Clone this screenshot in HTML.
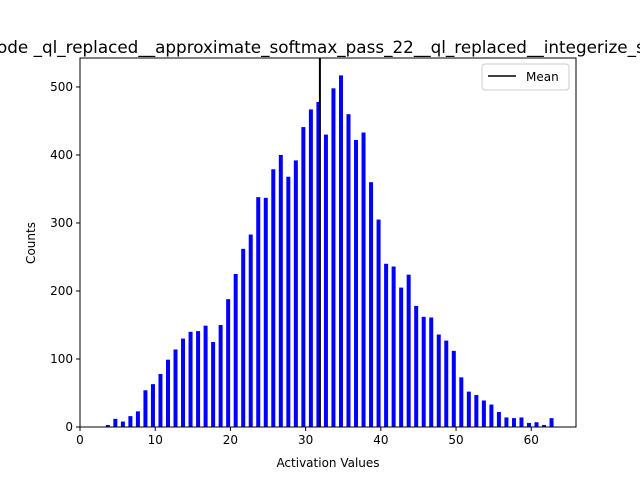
<!DOCTYPE html>
<html><head><meta charset="utf-8"><style>
body{margin:0;background:#fff}
svg{display:block;font-family:"DejaVu Sans","Liberation Sans",sans-serif}
</style></head><body>
<svg id="chart" width="640" height="480">
<rect width="640" height="480" fill="#fff"/>
<text x="-3" y="53" font-size="16.8">ode _ql_replaced__approximate_softmax_pass_22__ql_replaced__integerize_softmax</text>
<g id="bars"></g>
<g id="axes"></g>
<text x="328" y="467" font-size="12" text-anchor="middle">Activation Values</text>
<text transform="translate(35,243) rotate(-90)" font-size="12" text-anchor="middle">Counts</text>
<g>
<rect x="482" y="64" width="87" height="26" rx="3" fill="#fff" stroke="#ccc"/>
<line x1="488" y1="76" x2="516" y2="76" stroke="#000" stroke-width="1.5"/>
<text x="526" y="81" font-size="12">Mean</text>
</g>
</svg>
<script>
const categories=[4,5,6,7,8,9,10,11,12,13,14,15,16,17,18,19,20,21,22,23,24,25,26,27,28,29,30,31,32,33,34,35,36,37,38,39,40,41,42,43,44,45,46,47,48,49,50,51,52,53,54,55,56,57,58,59,60,61,62,63];
const counts=[3,12,8,16,23,54,63,78,99,114,130,140,141,149,125,150,188,225,262,283,338,337,379,400,368,392,441,467,478,430,498,517,460,422,433,360,305,240,236,205,224,178,162,161,136,127,112,73,52,47,39,33,22,14,13,14,6,7,3,13];
const meanValue=[31.9];
const xTicks=[0,10,20,30,40,50,60];
const yTicks=[0,100,200,300,400,500];
const NS="http://www.w3.org/2000/svg";
const L=80,R=576,T=58,B=427,xMax=65.95,yMax=542.6;
const xs=v=>L+v/xMax*(R-L), ys=v=>B-v/yMax*(B-T);
const bars=document.getElementById('bars'),axes=document.getElementById('axes');
function mk(t,a,p){const e=document.createElementNS(NS,t);for(const k in a)e.setAttribute(k,a[k]);p.appendChild(e);return e;}
categories.forEach((c,i)=>{
 const x=xs(c-0.3);
 const r=mk('rect',{x:x-2,y:ys(counts[i]),width:4,height:B-ys(counts[i]),fill:'#0000ff'},bars);
 
 
});
const ml=mk('line',{x1:xs(meanValue[0]),x2:xs(meanValue[0]),y1:T,y2:B,stroke:'#000','stroke-width':2},axes);


const fr=mk('rect',{x:L,y:T,width:R-L,height:B-T,fill:'none',stroke:'#000','stroke-width':1},axes);


xTicks.forEach(t=>{
 const x=xs(t);
 mk('line',{x1:x,x2:x,y1:B,y2:B+4,stroke:'#000'},axes);
 const tx=mk('text',{x:x,y:B+17,'font-size':12,'text-anchor':'middle'},axes);tx.textContent=t;
 
 
});
yTicks.forEach(t=>{
 const y=ys(t);
 mk('line',{x1:L-4,x2:L,y1:y,y2:y,stroke:'#000'},axes);
 const tx=mk('text',{x:L-7,y:y+4,'font-size':12,'text-anchor':'end'},axes);tx.textContent=t;
 
 
});
</script>
</body></html>
